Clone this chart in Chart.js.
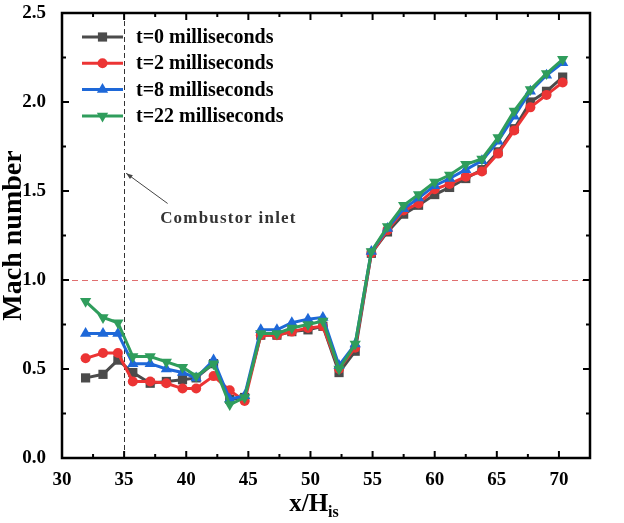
<!DOCTYPE html>
<html>
<head>
<meta charset="utf-8">
<script src="https://cdn.jsdelivr.net/npm/chart.js@4/dist/chart.umd.min.js"></script>
<style>
html, body { margin: 0; padding: 0; background: #fff; }
</style>
</head>
<body>
<canvas id="myChart" width="624" height="523"></canvas>
<script>
// positions along the duct (x/His)
var xPos = [31.9, 33.3, 34.5, 35.7, 37.1, 38.4, 39.7, 40.8, 42.2, 43.5, 44.7, 46.0, 47.3, 48.5, 49.8, 51.0,
            52.3, 53.6, 54.9, 56.2, 57.5, 58.7, 60.0, 61.2, 62.5, 63.8, 65.1, 66.4, 67.7, 69.0, 70.3];

var mach0  = [0.45, 0.47, 0.55, 0.48, 0.42, 0.43, 0.44, 0.45, 0.53, 0.33, 0.34, 0.69, 0.69, 0.71, 0.72, 0.74,
              0.48, 0.60, 1.15, 1.27, 1.37, 1.42, 1.48, 1.52, 1.57, 1.62, 1.72, 1.85, 2.00, 2.06, 2.14];
var mach2  = [0.56, 0.59, 0.59, 0.43, 0.43, 0.42, 0.39, 0.39, 0.46, 0.38, 0.32, 0.69, 0.69, 0.71, 0.73, 0.74,
              0.50, 0.62, 1.15, 1.28, 1.39, 1.43, 1.51, 1.54, 1.58, 1.61, 1.71, 1.84, 1.97, 2.04, 2.11];
var mach8  = [0.70, 0.70, 0.70, 0.53, 0.53, 0.50, 0.48, 0.45, 0.55, 0.33, 0.35, 0.72, 0.72, 0.76, 0.78, 0.79,
              0.52, 0.64, 1.16, 1.29, 1.40, 1.46, 1.53, 1.57, 1.62, 1.67, 1.78, 1.92, 2.06, 2.15, 2.22];
var mach22 = [0.88, 0.79, 0.76, 0.57, 0.57, 0.54, 0.51, 0.46, 0.53, 0.30, 0.34, 0.70, 0.70, 0.73, 0.75, 0.77,
              0.50, 0.64, 1.16, 1.30, 1.42, 1.48, 1.55, 1.59, 1.65, 1.68, 1.80, 1.95, 2.07, 2.16, 2.24];

var seriesNames = ["t=0 milliseconds", "t=2 milliseconds", "t=8 milliseconds", "t=22 milliseconds"];
var xTicks = [30, 35, 40, 45, 50, 55, 60, 65, 70];
var yTicks = [0, 0.5, 1.0, 1.5, 2.0, 2.5];
var inletX = 35;
var sonicLine = 1.0;
var noteText = "Combustor inlet";

var serif = "'Liberation Serif', 'Times New Roman', serif";
var colors = ["#4b4b4b", "#ec3434", "#1e68d8", "#2f9d5c"];
var styles = [
    { pointStyle: "rect", rotation: 0, r: 6.5 },
    { pointStyle: "circle", rotation: 0, r: 5 },
    { pointStyle: "triangle", rotation: 0, r: 6.5 },
    { pointStyle: "triangle", rotation: 180, r: 6.5 }
];
var allMach = [mach0, mach2, mach8, mach22];

function toPoints(arr) {
    return arr.map(function (v, i) { return { x: xPos[i], y: v }; });
}

function drawMarker(ctx, st, x, y, color) {
    ctx.save();
    ctx.fillStyle = color;
    ctx.beginPath();
    var r = st.r;
    if (st.pointStyle === "rect") {
        var s = r * Math.SQRT1_2;
        ctx.rect(x - s, y - s, 2 * s, 2 * s);
    } else if (st.pointStyle === "circle") {
        ctx.arc(x, y, r, 0, Math.PI * 2);
    } else {
        var dir = st.rotation ? -1 : 1;
        ctx.moveTo(x, y - dir * r);
        ctx.lineTo(x + r * 0.866, y + dir * r * 0.5);
        ctx.lineTo(x - r * 0.866, y + dir * r * 0.5);
        ctx.closePath();
    }
    ctx.fill();
    ctx.restore();
}

var refLines = {
    id: "refLines",
    beforeDatasetsDraw: function (chart) {
        var ctx = chart.ctx, a = chart.chartArea;
        var xs = chart.scales.x, ys = chart.scales.y;
        ctx.save();
        // sonic line
        ctx.strokeStyle = "#e07070";
        ctx.lineWidth = 1;
        ctx.setLineDash([6, 4]);
        var yy = Math.round(ys.getPixelForValue(sonicLine)) + 0.5;
        ctx.beginPath(); ctx.moveTo(a.left, yy); ctx.lineTo(a.right, yy); ctx.stroke();
        // combustor inlet
        ctx.strokeStyle = "#333";
        ctx.setLineDash([5, 3]);
        var xx = Math.round(xs.getPixelForValue(inletX)) + 0.5;
        ctx.beginPath(); ctx.moveTo(xx, a.top); ctx.lineTo(xx, a.bottom); ctx.stroke();
        ctx.restore();
    },
    afterDraw: function (chart) {
        var ctx = chart.ctx, a = chart.chartArea;
        var xs = chart.scales.x, ys = chart.scales.y;
        ctx.save();
        // frame
        ctx.strokeStyle = "#000";
        ctx.lineWidth = 2.5;
        ctx.strokeRect(a.left, a.top, a.right - a.left, a.bottom - a.top);
        // inward ticks, all four sides
        ctx.lineWidth = 2;
        var v, p, len;
        for (v = 30; v <= 72.5; v += 2.5) {
            p = xs.getPixelForValue(v);
            len = (v % 5 === 0) ? 7 : 4;
            ctx.beginPath();
            ctx.moveTo(p, a.bottom); ctx.lineTo(p, a.bottom - len);
            ctx.moveTo(p, a.top); ctx.lineTo(p, a.top + len);
            ctx.stroke();
        }
        for (v = 0.25; v < 2.5; v += 0.25) {
            p = ys.getPixelForValue(v);
            len = (Math.abs(v * 2 - Math.round(v * 2)) < 1e-6) ? 7 : 4;
            ctx.beginPath();
            ctx.moveTo(a.left, p); ctx.lineTo(a.left + len, p);
            ctx.moveTo(a.right, p); ctx.lineTo(a.right - len, p);
            ctx.stroke();
        }
        // legend
        ctx.font = "bold 20px " + serif;
        ctx.textBaseline = "middle";
        ctx.textAlign = "left";
        for (var i = 0; i < seriesNames.length; i++) {
            var ly = 37 + i * 26.3;
            ctx.strokeStyle = colors[i];
            ctx.lineWidth = 3;
            ctx.beginPath(); ctx.moveTo(82, ly); ctx.lineTo(123, ly); ctx.stroke();
            drawMarker(ctx, styles[i], 102.5, ly, colors[i]);
            ctx.fillStyle = "#000";
            ctx.fillText(seriesNames[i], 136, ly + 1);
        }
        // annotation arrow + text
        var tipX = xs.getPixelForValue(inletX) + 2, tipY = ys.getPixelForValue(1.6);
        var tailX = xs.getPixelForValue(38.5), tailY = ys.getPixelForValue(1.43);
        ctx.strokeStyle = "#444"; ctx.fillStyle = "#444"; ctx.lineWidth = 1;
        ctx.beginPath(); ctx.moveTo(tailX, tailY); ctx.lineTo(tipX, tipY); ctx.stroke();
        var ang = Math.atan2(tipY - tailY, tipX - tailX);
        ctx.beginPath();
        ctx.moveTo(tipX, tipY);
        ctx.lineTo(tipX - 7 * Math.cos(ang - 0.35), tipY - 7 * Math.sin(ang - 0.35));
        ctx.lineTo(tipX - 7 * Math.cos(ang + 0.35), tipY - 7 * Math.sin(ang + 0.35));
        ctx.closePath(); ctx.fill();
        ctx.font = "bold 17px " + serif;
        ctx.letterSpacing = "1.2px";
        ctx.fillStyle = "#333";
        ctx.textBaseline = "alphabetic";
        ctx.fillText(noteText, xs.getPixelForValue(37.9), ys.getPixelForValue(1.32));
        ctx.letterSpacing = "0px";
        // x title with subscript
        ctx.fillStyle = "#000";
        ctx.font = "bold 25px " + serif;
        var main = "x/H", sub = "is";
        var w1 = ctx.measureText(main).width;
        ctx.font = "bold 16px " + serif;
        var w2 = ctx.measureText(sub).width;
        var sx = 314 - (w1 + w2) / 2;
        ctx.font = "bold 25px " + serif;
        ctx.fillText(main, sx, 511);
        ctx.font = "bold 16px " + serif;
        ctx.fillText(sub, sx + w1, 517);
        ctx.restore();
    }
};

var datasets = allMach.map(function (arr, i) {
    return {
        label: seriesNames[i],
        data: toPoints(arr),
        borderColor: colors[i],
        backgroundColor: colors[i],
        borderWidth: 3,
        pointStyle: styles[i].pointStyle,
        rotation: styles[i].rotation,
        pointRadius: styles[i].r,
        pointBorderWidth: 0,
        pointHoverRadius: styles[i].r,
        tension: 0,
        order: 3 - i
    };
});

function noPad(s) {
    s.paddingTop = 0; s.paddingBottom = 0; s.paddingLeft = 0; s.paddingRight = 0;
}

var ctx = document.getElementById("myChart").getContext("2d");
var myChart = new Chart(ctx, {
    type: "line",
    data: { datasets: datasets },
    options: {
        responsive: false,
        animation: false,
        devicePixelRatio: 1,
        layout: { padding: { top: 13, right: 34, left: 0, bottom: 0 } },
        plugins: { legend: { display: false }, tooltip: { enabled: false } },
        scales: {
            x: {
                type: "linear",
                min: 30, max: 72.5,
                afterBuildTicks: function (s) { s.ticks = xTicks.map(function (v) { return { value: v }; }); },
                afterFit: function (s) { s.height = 65; noPad(s); },
                grid: { display: false, drawTicks: false },
                border: { display: false },
                ticks: {
                    color: "#000", padding: 11, maxRotation: 0, autoSkip: false,
                    font: { family: serif, weight: "bold", size: 19 }
                }
            },
            y: {
                min: 0, max: 2.5,
                afterBuildTicks: function (s) { s.ticks = yTicks.map(function (v) { return { value: v }; }); },
                afterFit: function (s) { s.width = 62; noPad(s); },
                grid: { display: false, drawTicks: false },
                border: { display: false },
                ticks: {
                    color: "#000", padding: 16,
                    font: { family: serif, weight: "bold", size: 19 },
                    callback: function (v) { return Number(v).toFixed(1); }
                },
                title: {
                    display: true, text: "Mach number", color: "#000", padding: 0,
                    font: { family: serif, weight: "bold", size: 28, lineHeight: 1 }
                }
            }
        }
    },
    plugins: [refLines]
});
</script>
</body>
</html>
